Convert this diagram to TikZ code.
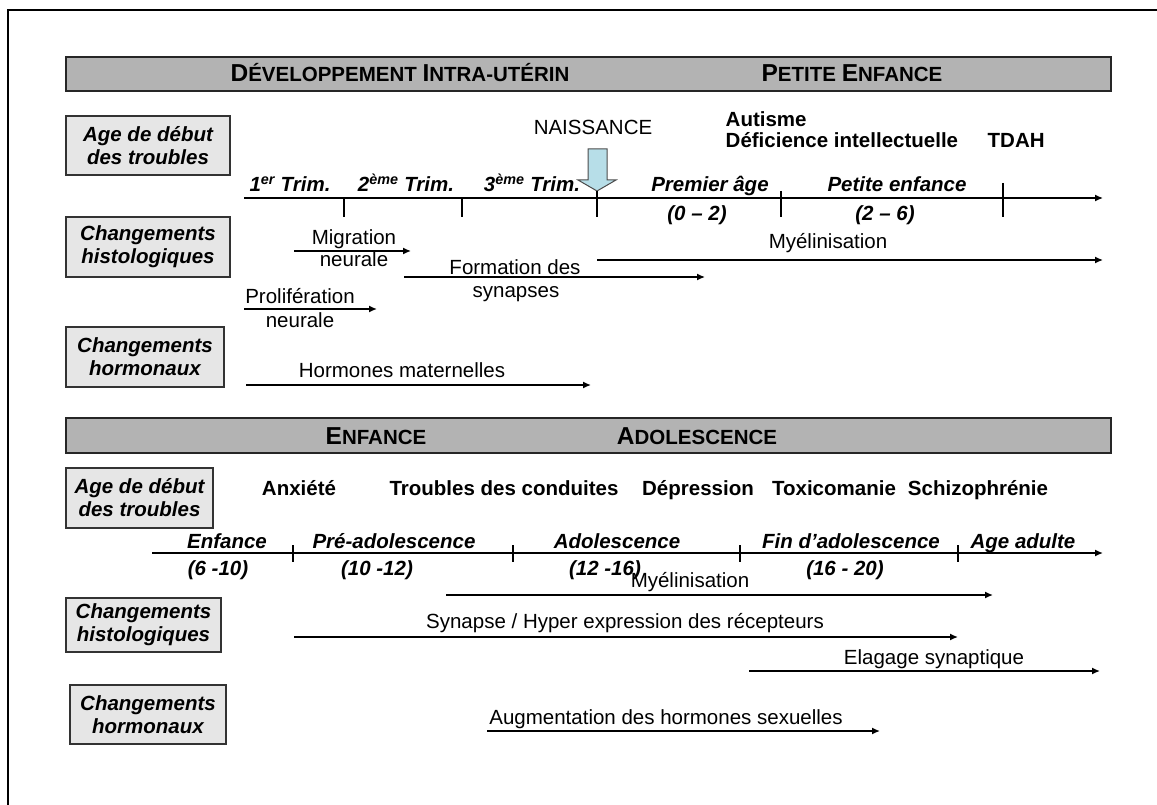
\documentclass[tikz,border=0pt]{standalone}
\usepackage{fontspec}
\setmainfont{Liberation Sans}
\usepackage{xcolor}
\usetikzlibrary{arrows.meta}
\usetikzlibrary{positioning}

\definecolor{bargray}{RGB}{179,179,179}
\definecolor{boxgray}{RGB}{230,230,230}
\definecolor{birthblue}{RGB}{183,222,232}
\newcommand{\capsc}[2]{{\fontsize{24.5}{24.5}\selectfont #1}{\fontsize{20.5}{20.5}\selectfont #2}}

\begin{document}
\begin{tikzpicture}[x=1pt, y=-1pt, line width=1.4pt, >={Latex[length=8pt,width=7pt]}]
  \tikzstyle{bar}=[draw=black!85, fill=bargray, line width=1.8pt, inner sep=0pt]
  \tikzstyle{rowbox}=[draw=black!80, fill=boxgray, line width=1.4pt, align=center, inner sep=0pt, font=\fontsize{20.5}{23}\selectfont\bfseries\itshape]
  \tikzstyle{hdr}=[font=\fontsize{20.5}{24}\selectfont\bfseries, inner sep=0pt, anchor=base]
  \tikzstyle{lab}=[font=\fontsize{20.5}{23}\selectfont, inner sep=0pt, anchor=base]
  \tikzstyle{per}=[font=\fontsize{20.5}{23}\selectfont\bfseries\itshape, inner sep=0pt, anchor=base]
  \tikzstyle{dis}=[font=\fontsize{20.5}{23}\selectfont\bfseries, inner sep=0pt, anchor=base]
\useasboundingbox (0,0) rectangle (1157,805);
\draw[line width=2.5pt] (1157,10) -- (8,10) -- (8,805);

% intra-uterine and early childhood
\node[bar, minimum width=1045pt, minimum height=34pt] (bar1) at (588.5,74) {};
\node[hdr] (devutero) at (400,82) {\capsc{D}{ÉVELOPPEMENT} \capsc{I}{NTRA-UTÉRIN}};
\node[hdr] (petenf) at (852,82) {\capsc{P}{ETITE} \capsc{E}{NFANCE}};

\node[rowbox, minimum width=164pt, minimum height=59pt] (age1) at (148,145.5) {Age de début\\des troubles};
\node[rowbox, minimum width=164pt, minimum height=60pt] (histo1) at (148,247) {Changements\\histologiques};
\node[rowbox, minimum width=158pt, minimum height=60pt] (horm1) at (145,357) {Changements\\hormonaux};

\node[lab] (naiss) at (593,135) {NAISSANCE};
\node[dis, anchor=base west] (autisme) at (725,127) {Autisme};
\node[dis, anchor=base west] (deficience) at (725,148) {Déficience intellectuelle};
\node[dis, anchor=base west] (tdah) at (987,148) {TDAH};
\draw[fill=birthblue, draw=black!70, line width=1pt] (588,149) -- (607,149) -- (607,180) -- (616,180)
  -- (597,191) -- (578,180) -- (588,180) -- cycle;

\coordinate (ax1s) at (244,198);
\coordinate (ax1e) at (1103,198);
\draw[->] (ax1s) -- (ax1e);
\foreach \tx/\ty in {344/198, 462/198, 597/191, 781/191, 1003/183}
  \draw (\tx,\ty) -- (\tx,217);
\node[per] (trim1) at (290,192) {1\textsuperscript{er} Trim.};
\node[per] (trim2) at (406,192) {2\textsuperscript{ème} Trim.};
\node[per] (trim3) at (532,192) {3\textsuperscript{ème} Trim.};
\node[per] (premage) at (710,192) {Premier âge};
\node[per] (premyrs) at (697,221) {(0 – 2)};
\node[per] (petite) at (897,192) {Petite enfance};
\node[per] (petyrs) at (885,221) {(2 – 6)};

\coordinate (migs) at (294,251);  \coordinate (mige) at (411,251);
\coordinate (forms) at (404,277); \coordinate (forme) at (705,277);
\coordinate (myes) at (597,260);  \coordinate (myee) at (1103,260);
\coordinate (pros) at (244,309);  \coordinate (proe) at (377,309);
\coordinate (hors) at (246,385);  \coordinate (hore) at (591,385);
\draw[->] (migs) -- (mige);
\draw[->] (forms) -- (forme);
\draw[->] (myes) -- (myee);
\draw[->] (pros) -- (proe);
\draw[->] (hors) -- (hore);
\node[lab] (migA) at (354,245) {Migration};
\node[lab] (migB) at (354,267) {neurale};
\node[lab] (formA) at (515,275) {Formation des};
\node[lab] (formB) at (516,298) {synapses};
\node[lab] (myel1) at (828,249) {Myélinisation};
\node[lab] (proA) at (300,303) {Prolifération};
\node[lab] (proB) at (300,327) {neurale};
\node[lab] (hormat) at (402,377) {Hormones maternelles};

% childhood and adolescence
\node[bar, minimum width=1045pt, minimum height=35pt] (bar2) at (588.5,435.5) {};
\node[hdr] (enfance) at (376,444) {\capsc{E}{NFANCE}};
\node[hdr] (adol) at (697,444) {\capsc{A}{DOLESCENCE}};

\node[rowbox, minimum width=147pt, minimum height=60pt] (age2) at (139.5,498) {Age de début\\des troubles};
\node[rowbox, minimum width=155pt, minimum height=54pt] (histo2) at (143.5,625) {Changements\\histologiques};
\node[rowbox, minimum width=156pt, minimum height=59pt] (horm2) at (148,714.5) {Changements\\hormonaux};

\node[dis] (anxiete) at (299,495) {Anxiété};
\node[dis] (conduites) at (504,495) {Troubles des conduites};
\node[dis] (depression) at (698,495) {Dépression};
\node[dis] (toxico) at (834,495) {Toxicomanie};
\node[dis] (schizo) at (978,495) {Schizophrénie};

\coordinate (ax2s) at (152,553);
\coordinate (ax2e) at (1103,553);
\draw[->] (ax2s) -- (ax2e);
\foreach \tx in {293, 513, 740, 958}
  \draw (\tx,545) -- (\tx,562);
\node[per] (enf) at (227,548) {Enfance};
\node[per] (preado) at (394,548) {Pré-adolescence};
\node[per] (ado) at (617,548) {Adolescence};
\node[per] (finado) at (851,548) {Fin d’adolescence};
\node[per] (adulte) at (1023,548) {Age adulte};
\node[per] (enfyrs) at (218,575) {(6 -10)};
\node[per] (preyrs) at (377,575) {(10 -12)};
\node[per] (adoyrs) at (605,575) {(12 -16)};
\node[per] (finyrs) at (845,575) {(16 - 20)};

\coordinate (mye2s) at (446,595); \coordinate (mye2e) at (993,595);
\coordinate (syns) at (294,637);  \coordinate (syne) at (958,637);
\coordinate (elas) at (749,671);  \coordinate (elae) at (1100,671);
\coordinate (augs) at (487,731);  \coordinate (auge) at (880,731);
\draw[->] (mye2s) -- (mye2e);
\draw[->] (syns) -- (syne);
\draw[->] (elas) -- (elae);
\draw[->] (augs) -- (auge);
\node[lab] (myel2) at (690,587) {Myélinisation};
\node[lab] (synapse) at (625,628) {Synapse / Hyper expression des récepteurs};
\node[lab] (elagage) at (934,664) {Elagage synaptique};
\node[lab] (augment) at (666,724) {Augmentation des hormones sexuelles};
\end{tikzpicture}
\end{document}
